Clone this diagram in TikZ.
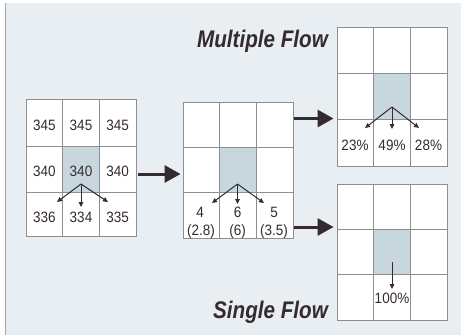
\documentclass[tikz,border=0pt]{standalone}
\usepackage{fontspec}
\setmainfont{Liberation Sans}
\newfontfamily\titlefont[FakeStretch=0.86]{Liberation Sans}
\newfontfamily\numfont[FakeStretch=0.9]{Liberation Sans}
\usetikzlibrary{arrows.meta}
\definecolor{bg}{HTML}{E8EEF1}
\definecolor{ink}{HTML}{352A30}
\definecolor{gridc}{HTML}{8E8E8E}
\definecolor{cellshade}{HTML}{C8D6DD}
\begin{document}
\begin{tikzpicture}[x=1bp,y=-1bp,
  gridbox/.style={draw=gridc,line width=0.9bp,fill=white,inner sep=0pt,minimum width=110bp},
  gline/.style={draw=gridc,line width=0.9bp},
  num/.style={text=ink,inner sep=0pt,font=\numfont\fontsize{15bp}{17bp}\selectfont},
  title/.style={text=ink,inner sep=0pt,font=\titlefont\fontsize{24bp}{28bp}\selectfont\bfseries\itshape},
  bigarrow/.style={draw=ink,line width=3bp,-{Triangle[length=16bp,width=17bp]}},
  smallarrow/.style={draw=ink,line width=1bp,-{Triangle[length=5bp,width=4.5bp]}}]
\useasboundingbox (0,0) rectangle (461,335);
\fill[white] (0,0) rectangle (461,335);
\fill[bg] (5,3) rectangle (461,335);
\draw[gray!70,line width=1.5bp] (5.5,3) -- (5.5,335);

% ---------- grid 1 ----------
\node[gridbox,minimum height=137bp] (G1) at (81,167.5) {};
\fill[cellshade] (62.7,146) rectangle (99.3,192);
\draw[gline] (62.7,99) -- (62.7,236) (99.3,99) -- (99.3,236)
             (26,146) -- (136,146) (26,192) -- (136,192);
\node[num] (n11) at (44.3,125) {345};
\node[num] (n12) at (81,125) {345};
\node[num] (n13) at (117.7,125) {345};
\node[num] (n21) at (44.3,171) {340};
\node[num] (n22) at (81,171) {340};
\node[num] (n23) at (117.7,171) {340};
\node[num] (n31) at (44.3,217) {336};
\node[num] (n32) at (81,217) {334};
\node[num] (n33) at (117.7,217) {335};
\coordinate (p1) at (81,184);
\coordinate (p1a) at (57,202);
\coordinate (p1b) at (81,207);
\coordinate (p1c) at (108,202);
\draw[smallarrow] (p1) -- (p1a);
\draw[smallarrow] (p1) -- (p1b);
\draw[smallarrow] (p1) -- (p1c);

% ---------- grid 2 ----------
\node[gridbox,minimum height=136bp] (G2) at (238,170) {};
\fill[cellshade] (219.7,147.3) rectangle (256.3,192.7);
\draw[gline] (219.7,102) -- (219.7,238) (256.3,102) -- (256.3,238)
             (183,147.3) -- (293,147.3) (183,192.7) -- (293,192.7);
\node[num] (m1) at (200,212) {4};
\node[num] (m2) at (237.5,212) {6};
\node[num] (m3) at (274,212) {5};
\node[num] (q1) at (201,232) {(2.8)};
\node[num] (q2) at (237.5,232) {(6)};
\node[num] (q3) at (274,232) {(3.5)};
\coordinate (p2) at (237.5,184);
\coordinate (p2a) at (212,203);
\coordinate (p2b) at (237.5,204);
\coordinate (p2c) at (264,203);
\draw[smallarrow] (p2) -- (p2a);
\draw[smallarrow] (p2) -- (p2b);
\draw[smallarrow] (p2) -- (p2c);

% ---------- grid 3 (multiple flow) ----------
\node[gridbox,minimum height=139bp] (G3) at (392,96.5) {};
\fill[cellshade] (373.7,73) rectangle (410.3,119.5);
\draw[gline] (373.7,27) -- (373.7,166) (410.3,27) -- (410.3,166)
             (337,73) -- (447,73) (337,119.5) -- (447,119.5);
\node[num] (r1) at (355,145) {23\%};
\node[num] (r2) at (392,145) {49\%};
\node[num] (r3) at (428.5,145) {28\%};
\coordinate (p3) at (392,107);
\coordinate (p3a) at (365,128);
\coordinate (p3b) at (392,129);
\coordinate (p3c) at (419,128);
\draw[smallarrow] (p3) -- (p3a);
\draw[smallarrow] (p3) -- (p3b);
\draw[smallarrow] (p3) -- (p3c);

% ---------- grid 4 (single flow) ----------
\node[gridbox,minimum height=136bp] (G4) at (392,252) {};
\fill[cellshade] (373.7,229) rectangle (410.3,274.5);
\draw[gline] (373.7,184) -- (373.7,320) (410.3,184) -- (410.3,320)
             (337,229) -- (447,229) (337,274.5) -- (447,274.5);
\node[num] (s1) at (392,298) {100\%};
\coordinate (p4) at (392,262);
\coordinate (p4a) at (392,289);
\draw[smallarrow] (p4) -- (p4a);

% ---------- titles ----------
\node[title,anchor=base east] (tm) at (328,47) {Multiple Flow};
\node[title,anchor=base east] (ts) at (328,318) {Single Flow};

% ---------- big arrows ----------
\coordinate (y1) at (0,174);
\coordinate (y2) at (0,118.5);
\coordinate (y3) at (0,227);
\draw[bigarrow,shorten <=2bp,shorten >=2bp] (G1.east |- y1) -- (G2.west |- y1);
\draw[bigarrow,shorten <=1bp,shorten >=3bp] (G2.east |- y2) -- (G3.west |- y2);
\draw[bigarrow,shorten <=1bp,shorten >=3bp] (G2.east |- y3) -- (G4.west |- y3);
\end{tikzpicture}
\end{document}
